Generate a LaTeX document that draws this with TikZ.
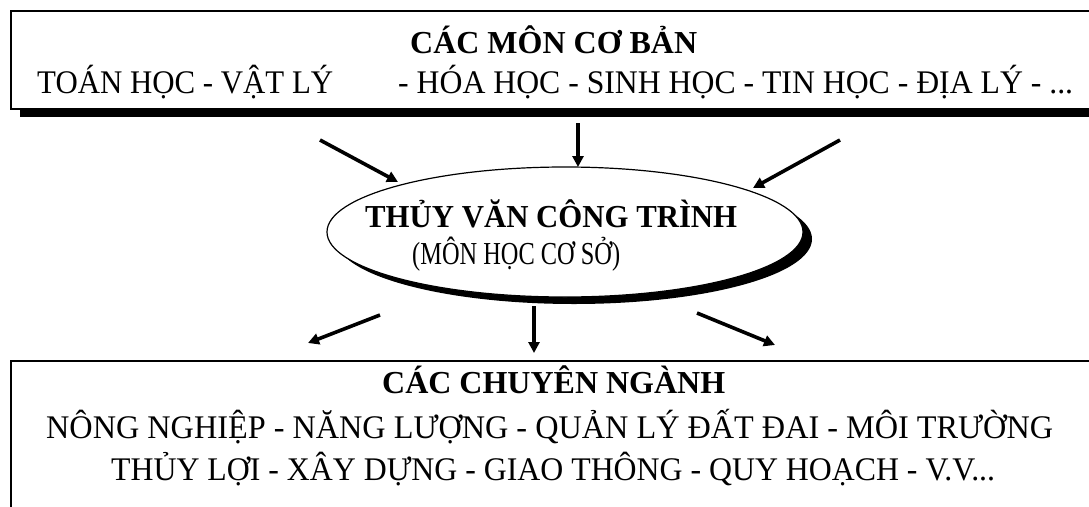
\documentclass[tikz,border=0pt]{standalone}
\usepackage{fontspec}
\setmainfont{Liberation Serif}
\usetikzlibrary{arrows.meta,shapes.geometric}
\newcommand{\fw}[2]{\resizebox{#1}{\height}{#2}}
\begin{document}
\begin{tikzpicture}[x=1pt,y=-1pt,
  arr/.style={line width=3.6pt,-{Triangle[length=11pt,width=11pt]}},
  txt/.style={inner sep=0pt,anchor=base west,font=\fontsize{33}{36}\selectfont},
  txtb/.style={inner sep=0pt,anchor=base west,font=\fontsize{33}{36}\selectfont},
  hd/.style={inner sep=0pt,anchor=base west,font=\bfseries\fontsize{32}{36}\selectfont},
  boxline/.style={line width=1.5pt}]
\useasboundingbox (0,0) rectangle (1089,506);
\clip (0,0) rectangle (1089,506);
% top box
\fill (20,108) rectangle (1100,117);
\node[draw,boxline,fill=white,anchor=north west,minimum width=1100pt,minimum height=98pt,inner sep=0pt] (basic) at (10,10) {};
\node[hd] (basich) at (410,53) {\fw{287pt}{CÁC MÔN CƠ BẢN}};
\node[txt] (basicl) at (37,93) {\fw{296pt}{TOÁN HỌC - VẬT LÝ}\hspace*{65pt}\fw{675pt}{- HÓA HỌC - SINH HỌC - TIN HỌC - ĐỊA LÝ - ...}};
% ellipse
\fill (574,239) ellipse [x radius=238pt, y radius=65pt];
\node[ellipse,draw,fill=white,line width=1.2pt,minimum width=476pt,minimum height=130pt,inner sep=0pt] (core) at (565,232) {};
\node[hd,font=\bfseries\fontsize{32}{36}\selectfont] (coret) at (365,227) {\fw{372pt}{THỦY VĂN CÔNG TRÌNH}};
\node[txt,font=\fontsize{32}{36}\selectfont] (cores) at (412,264) {\fw{208pt}{(MÔN HỌC CƠ SỞ)}};
% bottom box
\node[draw,boxline,fill=white,anchor=north west,minimum width=1100pt,minimum height=200pt,inner sep=0pt] (spec) at (10,360) {};
\node[hd] (spech) at (382,393) {\fw{343pt}{CÁC CHUYÊN NGÀNH}};
\node[txtb] (specl1) at (46,438) {\fw{1007pt}{NÔNG NGHIỆP - NĂNG LƯỢNG - QUẢN LÝ ĐẤT ĐAI - MÔI TRƯỜNG}};
\node[txtb] (specl2) at (111,480) {\fw{884pt}{THỦY LỢI - XÂY DỰNG - GIAO THÔNG - QUY HOẠCH - V.V...}};
% arrows
\coordinate (tl0) at (320,140); \coordinate (tl1) at (398,182);
\coordinate (tc0) at (578,123); \coordinate (tc1) at (578,167);
\coordinate (tr0) at (840,140); \coordinate (tr1) at (753,188);
\coordinate (bl0) at (380,315); \coordinate (bl1) at (308,343);
\coordinate (bc0) at (534,306); \coordinate (bc1) at (534,353);
\coordinate (br0) at (697,313); \coordinate (br1) at (775,345);
\draw[arr] (tl0) -- (tl1);
\draw[arr] (tc0) -- (tc1);
\draw[arr] (tr0) -- (tr1);
\draw[arr] (bl0) -- (bl1);
\draw[arr] (bc0) -- (bc1);
\draw[arr] (br0) -- (br1);
\end{tikzpicture}
\end{document}
